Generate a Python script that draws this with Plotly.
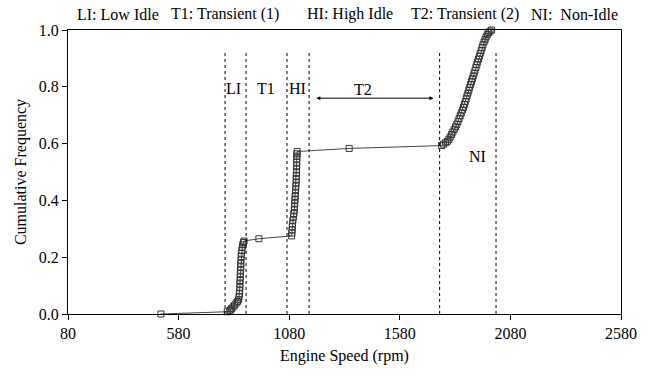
import plotly.graph_objects as go

# Cumulative frequency curve
rpm = [500, 800, 812,
       814, 820, 826, 833, 840, 846, 851, 853, 855, 856, 857, 857, 858, 859, 859, 860,
       861, 861, 862, 863, 864, 866, 868, 870, 873, 876,
       943,
       1091, 1092, 1093, 1094, 1095, 1097, 1099, 1101, 1103, 1104, 1105, 1106, 1107, 1108,
       1109, 1110, 1111, 1112, 1112, 1113, 1113, 1114, 1114, 1114, 1115, 1115, 1116,
       1351,
       1769, 1778, 1787, 1795, 1802, 1808, 1814, 1820, 1826, 1832, 1838, 1843, 1848, 1853,
       1858, 1863, 1868, 1872, 1876, 1880, 1884, 1888, 1892, 1896, 1900, 1904, 1908, 1912,
       1916, 1920, 1924, 1928, 1932, 1936, 1940, 1944, 1948, 1952, 1956, 1961, 1966, 1970,
       1976, 1982, 1988, 1995]
cumfreq = [0.0, 0.008, 0.012,
           0.014, 0.019, 0.025, 0.031, 0.038, 0.044, 0.050, 0.060, 0.071, 0.082, 0.094, 0.106,
           0.118, 0.130, 0.142, 0.154, 0.166, 0.178, 0.190, 0.202, 0.214, 0.225, 0.235, 0.244,
           0.252, 0.257,
           0.265,
           0.275, 0.285, 0.296, 0.307, 0.318, 0.330, 0.342, 0.354, 0.366, 0.378, 0.390, 0.402,
           0.414, 0.426, 0.438, 0.450, 0.462, 0.474, 0.486, 0.498, 0.510, 0.522, 0.534, 0.546,
           0.556, 0.564, 0.572,
           0.583,
           0.593, 0.598, 0.603, 0.608, 0.615, 0.623, 0.632, 0.641, 0.650, 0.659, 0.668, 0.678,
           0.688, 0.698, 0.708, 0.718, 0.728, 0.738, 0.748, 0.758, 0.768, 0.778, 0.788, 0.798,
           0.808, 0.818, 0.828, 0.838, 0.848, 0.858, 0.868, 0.878, 0.888, 0.898, 0.908, 0.918,
           0.928, 0.938, 0.948, 0.958, 0.967, 0.976, 0.984, 0.991, 0.996, 1.000]

# Region boundaries (dashed lines)
boundaries = [790, 885, 1070, 1170, 1760, 2015]
boundary_top = 0.92

# Region labels
region_labels = ["LI", "T1", "HI", "T2", "NI"]
region_x = [829, 977, 1118, 1414, 1932]
region_y = [0.795, 0.795, 0.795, 0.789, 0.553]

# T2 arrow span
t2_arrow = [1196, 1732]
t2_arrow_y = 0.76

legend_items = ["LI: Low Idle", "T1: Transient (1)", "HI: High Idle",
                "T2: Transient (2)", "NI:  Non-Idle"]
legend_pos = [0.0135, 0.182, 0.428, 0.616, 0.833]

xticks = [80, 580, 1080, 1580, 2080, 2580]
yticks = [0.0, 0.2, 0.4, 0.6, 0.8, 1.0]

FONT = "Liberation Serif, Times New Roman, serif"

fig = go.Figure()
fig.add_trace(go.Scatter(
    x=rpm, y=cumfreq, mode="lines+markers",
    line=dict(color="#444444", width=1),
    marker=dict(symbol="square-open", size=6, color="#333333", line=dict(width=1)),
    cliponaxis=False, showlegend=False, hoverinfo="skip"))

shapes = []
for b in boundaries:
    shapes.append(dict(type="line", xref="x", yref="y", x0=b, x1=b, y0=0, y1=boundary_top,
                       line=dict(color="black", width=1, dash="3px,3px")))

annotations = []
for t, x, y in zip(region_labels, region_x, region_y):
    annotations.append(dict(x=x, y=y, xref="x", yref="y", text=t, showarrow=False,
                            font=dict(family=FONT, size=16, color="black")))
annotations.append(dict(x=t2_arrow[1], y=t2_arrow_y, ax=t2_arrow[0], ay=t2_arrow_y,
                        xref="x", yref="y", axref="x", ayref="y", text="",
                        showarrow=True, arrowhead=2, arrowside="end+start",
                        arrowsize=0.8, arrowwidth=1, arrowcolor="black"))
for t, p in zip(legend_items, legend_pos):
    annotations.append(dict(x=p, y=1.056, xref="paper", yref="paper", text=t,
                            xanchor="left", yanchor="middle", showarrow=False,
                            font=dict(family=FONT, size=16, color="black")))

fig.update_layout(
    width=649, height=375,
    margin=dict(l=68, r=18, t=30, b=61),
    paper_bgcolor="white", plot_bgcolor="white",
    font=dict(family=FONT, size=16, color="black"),
    shapes=shapes, annotations=annotations,
    xaxis=dict(range=[80, 2580], tickvals=xticks, ticktext=[str(v) for v in xticks],
               showgrid=False, zeroline=False, showline=True, linecolor="black",
               linewidth=1, mirror=True, ticks="outside", ticklen=5, tickcolor="black",
               title=dict(text="Engine Speed (rpm)", standoff=8,
                          font=dict(family=FONT, size=16))),
    yaxis=dict(range=[0, 1], tickvals=yticks, ticktext=[f"{v:.1f}" for v in yticks],
               showgrid=False, zeroline=False, showline=True, linecolor="black",
               linewidth=1, mirror=True, ticks="outside", ticklen=5, tickcolor="black",
               title=dict(text="Cumulative Frequency", standoff=8,
                          font=dict(family=FONT, size=16))),
)

fig.write_html("out.html")
